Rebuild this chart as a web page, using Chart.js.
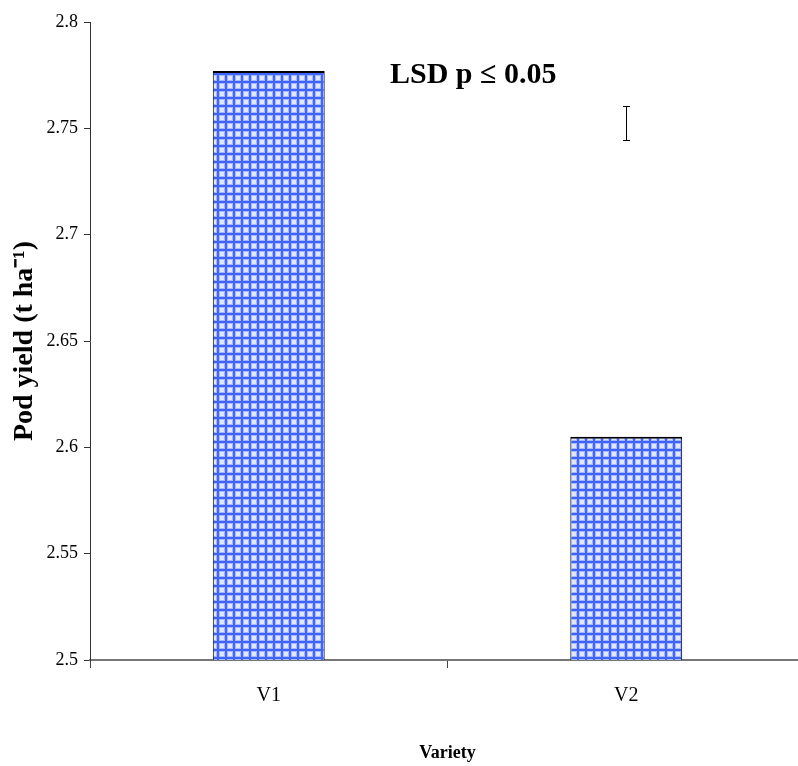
<!DOCTYPE html>
<html>
<head>
<meta charset="utf-8">
<script src="https://cdn.jsdelivr.net/npm/chart.js@4"></script>
<style>
  html, body { margin: 0; padding: 0; background: #fff; overflow: hidden; }
  #wrap { width: 798px; height: 766px; overflow: hidden; }
</style>
</head>
<body>
<div id="wrap"><canvas id="chart" width="805" height="766"></canvas></div>
<script>
const varieties = ["V1", "V2"];
const podYield = [2.777, 2.605];
const yTicks = [2.5, 2.55, 2.6, 2.65, 2.7, 2.75, 2.8];
const yTickLabels = ["2.5", "2.55", "2.6", "2.65", "2.7", "2.75", "2.8"];
const lsdLabel = "LSD p \u2264 0.05";
const lsdRange = [2.7445, 2.7605];

// blue check pattern like the Excel fill
function makeGrid() {
  const c = document.createElement("canvas");
  c.width = 8;
  c.height = 8;
  const g = c.getContext("2d");
  g.fillStyle = "#ffffff";
  g.fillRect(0, 0, 8, 8);
  g.fillStyle = "#dfe6ff";
  g.fillRect(3, 3, 5, 5);
  g.fillStyle = "#a6b8ff";
  g.fillRect(0, 0, 4, 8);
  g.fillRect(0, 0, 8, 4);
  g.fillStyle = "#4065fb";
  g.fillRect(1, 0, 2, 8);
  g.fillRect(0, 1, 8, 2);
  return g.createPattern(c, "repeat");
}

const serif = "'Liberation Serif', 'Times New Roman', serif";

const lsdPlugin = {
  id: "lsd",
  afterDatasetsDraw(chart) {
    const { ctx, scales: { x, y }, chartArea } = chart;
    ctx.save();
    // error bar at V2
    const px = Math.round(x.getPixelForValue(1));
    const y1 = Math.round(y.getPixelForValue(lsdRange[1]));
    const y2 = Math.round(y.getPixelForValue(lsdRange[0]));
    ctx.strokeStyle = "#000";
    ctx.lineWidth = 1;
    ctx.beginPath();
    ctx.moveTo(px + 0.5, y1);
    ctx.lineTo(px + 0.5, y2);
    ctx.moveTo(px - 3, y1 + 0.5);
    ctx.lineTo(px + 4, y1 + 0.5);
    ctx.moveTo(px - 3, y2 + 0.5);
    ctx.lineTo(px + 4, y2 + 0.5);
    ctx.stroke();
    // label
    ctx.fillStyle = "#000";
    ctx.font = "bold 30px " + serif;
    ctx.textAlign = "center";
    ctx.textBaseline = "middle";
    ctx.fillText(lsdLabel, chartArea.left + (chartArea.right - chartArea.left) * 0.536, chartArea.top + 53);
    ctx.restore();
  }
};

new Chart(document.getElementById("chart"), {
  type: "bar",
  data: {
    labels: varieties,
    datasets: [{
      data: podYield,
      backgroundColor: makeGrid(),
      borderColor: "#000",
      borderWidth: { top: 2, left: 1, right: 1, bottom: 0 },
      borderSkipped: false,
      barPercentage: 0.313,
      categoryPercentage: 1
    }]
  },
  options: {
    responsive: false,
    animation: false,
    layout: { padding: { top: 22, left: 0, right: 0, bottom: 0 } },
    plugins: {
      legend: { display: false },
      tooltip: { enabled: false }
    },
    scales: {
      x: {
        grid: { display: true, drawOnChartArea: false, offset: true, tickLength: 8, color: "#444" },
        border: { color: "#777", width: 2 },
        ticks: { color: "#000", padding: 16, font: { family: serif, size: 20 } },
        title: {
          display: true,
          text: "Variety",
          color: "#000",
          font: { family: serif, size: 18, weight: "bold" },
          padding: { top: 0, bottom: 2 }
        },
        afterFit(s) { s.height = 106; }
      },
      y: {
        min: 2.5,
        max: 2.8,
        afterBuildTicks(s) { s.ticks = yTicks.map(v => ({ value: v })); },
        grid: { display: true, drawOnChartArea: false, tickLength: 6, color: "#333" },
        border: { color: "#333", width: 1 },
        ticks: {
          color: "#000",
          padding: 6,
          font: { family: serif, size: 18 },
          callback: (v, i) => yTickLabels[i]
        },
        title: {
          display: true,
          text: "Pod yield (t ha\u207B\u00B9)",
          color: "#000",
          font: { family: serif, size: 28, weight: "bold" },
          padding: { top: 8, bottom: 6 }
        },
        afterFit(s) { s.width = 90; }
      }
    }
  },
  plugins: [lsdPlugin]
});
</script>
</body>
</html>
